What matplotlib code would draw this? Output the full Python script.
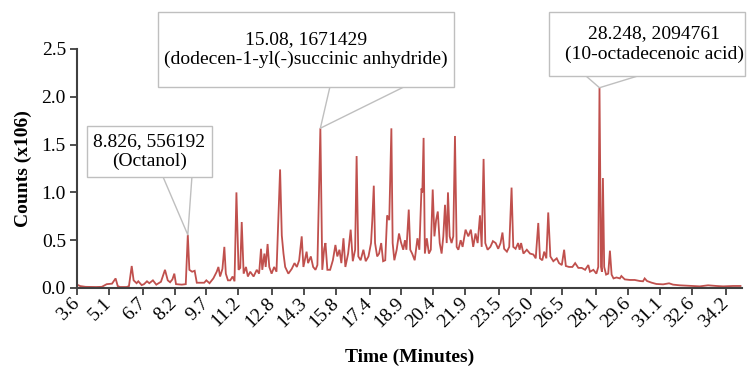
import matplotlib.pyplot as plt
from matplotlib.patches import Rectangle

# Chromatogram trace (time in minutes, counts in millions)
time_min = [
    3.60, 3.75, 4.00, 4.50, 4.77, 5.00, 5.25, 5.42, 5.52, 5.63, 5.94, 6.05, 6.18, 6.27,
    6.41, 6.49, 6.65, 6.76, 6.90, 7.01, 7.18, 7.34, 7.56, 7.75, 7.88, 7.99, 8.10, 8.19,
    8.27, 8.54, 8.73, 8.826, 8.90, 9.03, 9.15, 9.25, 9.40, 9.60, 9.70, 9.85, 10.03, 10.19,
    10.27, 10.35, 10.46, 10.55, 10.62, 10.72, 10.83, 10.94, 11.03, 11.12, 11.22, 11.30,
    11.37, 11.46, 11.57, 11.66, 11.77, 11.93, 12.08, 12.19, 12.28, 12.34, 12.44, 12.50,
    12.59, 12.67, 12.78, 12.90, 13.01, 13.18, 13.26, 13.34, 13.42, 13.57, 13.73, 13.86,
    13.97, 14.08, 14.20, 14.28, 14.43, 14.50, 14.63, 14.74, 14.85, 14.94, 15.08, 15.17,
    15.26, 15.32, 15.41, 15.54, 15.67, 15.79, 15.88, 15.98, 16.07, 16.17, 16.26, 16.39,
    16.51, 16.61, 16.72, 16.79, 16.87, 16.98, 17.11, 17.22, 17.35, 17.47, 17.53, 17.60,
    17.66, 17.76, 17.85, 17.95, 18.04, 18.14, 18.23, 18.33, 18.43, 18.49, 18.57, 18.68,
    18.79, 18.88, 18.99, 19.07, 19.14, 19.25, 19.32, 19.41, 19.53, 19.66, 19.75, 19.85,
    19.89, 19.95, 20.01, 20.10, 20.20, 20.29, 20.38, 20.46, 20.54, 20.62, 20.71, 20.80,
    20.88, 20.96, 21.04, 21.10, 21.18, 21.27, 21.35, 21.43, 21.51, 21.59, 21.70, 21.79,
    21.93, 22.06, 22.18, 22.29, 22.40, 22.50, 22.61, 22.69, 22.78, 22.86, 22.97, 23.10,
    23.22, 23.35, 23.47, 23.58, 23.67, 23.75, 23.88, 23.99, 24.10, 24.18, 24.29, 24.41,
    24.48, 24.55, 24.66, 24.82, 24.97, 25.13, 25.24, 25.36, 25.44, 25.55, 25.64, 25.74,
    25.83, 25.93, 26.07, 26.23, 26.34, 26.47, 26.58, 26.66, 26.81, 26.97, 27.10, 27.25,
    27.41, 27.57, 27.72, 27.80, 27.96, 28.10, 28.19, 28.248, 28.32, 28.36, 28.41, 28.47,
    28.56, 28.66, 28.74, 28.82, 28.91, 29.05, 29.21, 29.28, 29.44, 29.68, 29.91, 30.15,
    30.30, 30.38, 30.49, 30.70, 30.93, 31.25, 31.53, 31.72, 32.03, 32.35, 32.66, 32.98,
    33.37, 33.77, 34.08, 34.55, 34.90,
]
counts_m = [
    0.035, 0.020, 0.012, 0.010, 0.012, 0.040, 0.045, 0.100, 0.020, 0.010, 0.010, 0.020, 0.230, 0.080,
    0.050, 0.070, 0.030, 0.040, 0.070, 0.050, 0.080, 0.035, 0.065, 0.190, 0.080, 0.060, 0.090, 0.150,
    0.040, 0.035, 0.040, 0.556, 0.190, 0.170, 0.180, 0.055, 0.055, 0.055, 0.080, 0.050, 0.100, 0.170,
    0.220, 0.120, 0.200, 0.430, 0.150, 0.080, 0.080, 0.120, 0.070, 1.000, 0.190, 0.210,
    0.690, 0.150, 0.220, 0.120, 0.170, 0.120, 0.190, 0.150, 0.410, 0.190, 0.360, 0.220,
    0.460, 0.220, 0.150, 0.220, 0.170, 1.240, 0.550, 0.360, 0.220, 0.150, 0.200, 0.260,
    0.220, 0.290, 0.540, 0.220, 0.380, 0.260, 0.330, 0.220, 0.190, 0.240, 1.671, 0.190,
    0.410, 0.470, 0.190, 0.190, 0.290, 0.450, 0.330, 0.400, 0.260, 0.520, 0.220, 0.360,
    0.610, 0.280, 0.400, 1.380, 0.330, 0.290, 0.400, 0.280, 0.330, 0.470, 0.710, 1.070,
    0.470, 0.330, 0.360, 0.470, 0.280, 0.290, 0.760, 0.710, 1.670, 0.470, 0.290, 0.400,
    0.570, 0.480, 0.400, 0.500, 0.400, 0.820, 0.400, 0.360, 0.290, 0.520, 0.400, 1.040,
    1.000, 1.570, 0.360, 0.520, 0.360, 0.400, 1.030, 0.540, 0.710, 0.800, 0.470, 0.360,
    0.540, 0.870, 0.470, 1.000, 0.540, 0.470, 0.540, 1.590, 0.430, 0.400, 0.500, 0.430,
    0.610, 0.540, 0.610, 0.430, 0.570, 0.470, 0.760, 0.430, 1.350, 0.470, 0.400, 0.430,
    0.490, 0.470, 0.410, 0.470, 0.580, 0.410, 0.380, 0.430, 1.050, 0.430, 0.410, 0.470,
    0.400, 0.470, 0.360, 0.400, 0.360, 0.350, 0.310, 0.680, 0.310, 0.290, 0.380, 0.310,
    0.790, 0.330, 0.280, 0.310, 0.260, 0.240, 0.400, 0.230, 0.220, 0.220, 0.260, 0.210,
    0.210, 0.190, 0.240, 0.170, 0.190, 0.150, 0.220, 2.095, 0.220, 0.170, 1.150, 0.220,
    0.140, 0.150, 0.390, 0.140, 0.100, 0.110, 0.100, 0.125, 0.090, 0.084, 0.084, 0.073,
    0.070, 0.100, 0.073, 0.056, 0.042, 0.038, 0.049, 0.035, 0.028, 0.024, 0.021, 0.017,
    0.028, 0.021, 0.017, 0.021, 0.021,
]

# Labelled peaks
peak_times = [8.826, 15.08, 28.248]
peak_counts = [556192, 1671429, 2094761]
peak_names = ["Octanol", "dodecen-1-yl(-)succinic anhydride", "10-octadecenoic acid"]

x_tick_labels = ["3.6", "5.1", "6.7", "8.2", "9.7", "11.2", "12.8", "14.3", "15.8", "17.4",
                 "18.9", "20.4", "21.9", "23.5", "25.0", "26.5", "28.1", "29.6", "31.1",
                 "32.6", "34.2"]
y_ticks = [0.0, 0.5, 1.0, 1.5, 2.0, 2.5]

plt.rcParams['font.family'] = ['Liberation Serif', 'DejaVu Serif']

fig = plt.figure(figsize=(7.5, 3.67), dpi=100)
ax = fig.add_axes([0.1027, 0.2153, 0.8866, 0.6512])

ax.plot(time_min, counts_m, color='#C0504D', lw=1.3, solid_joinstyle='miter')

ax.set_xlim(3.6, 34.97)
ax.set_ylim(0, 2.5)
ax.set_yticks(y_ticks)
ax.set_yticklabels([f"{v:.1f}" for v in y_ticks])
ax.set_xticks([float(s) for s in x_tick_labels])
ax.set_xticklabels(x_tick_labels, rotation=45, ha='right', va='center',
                   rotation_mode='anchor')

for side in ['top', 'right']:
    ax.spines[side].set_visible(False)
for side in ['left', 'bottom']:
    ax.spines[side].set_color('#404040')
    ax.spines[side].set_linewidth(1.5)
ax.tick_params(axis='both', colors='#404040', width=1.3, length=5,
               labelsize=14, labelcolor='black', direction='out')
ax.tick_params(axis='x', pad=4)
ax.tick_params(axis='y', pad=3)

ax.set_ylabel("Counts (x106)", fontsize=14, fontweight='bold', labelpad=7)
ax.set_xlabel("Time (Minutes)", fontsize=14, fontweight='bold', labelpad=13)

# callout boxes: (left, right, bottom, top) in data units, text centre x, wedge base x pair
boxes = [
    ((4.07, 9.97, 1.161, 1.695), 7.02, (7.66, 9.02)),
    ((7.42, 21.38, 2.103, 2.887), 14.4, (15.53, 19.02)),
    ((25.86, 35.10, 2.218, 2.887), 30.82, (27.61, 30.06)),
]
for (t, c, name), (box, tx, base) in zip(zip(peak_times, peak_counts, peak_names), boxes):
    x0, x1, y0, y1 = box
    ax.add_patch(Rectangle((x0, y0), x1 - x0, y1 - y0, facecolor='white',
                           edgecolor='#BFBFBF', lw=1.0, clip_on=False, zorder=3))
    ax.text(tx, (y0 + y1) / 2, f"{t}, {c}\n({name})", ha='center', va='center',
            fontsize=14, linespacing=1.25, zorder=4, clip_on=False)
    py = c / 1e6
    ax.plot([base[0], t, base[1]], [y0, py, y0], color='#BFBFBF', lw=1.0,
            clip_on=False, zorder=2)

fig.savefig("out.png", dpi=100)
